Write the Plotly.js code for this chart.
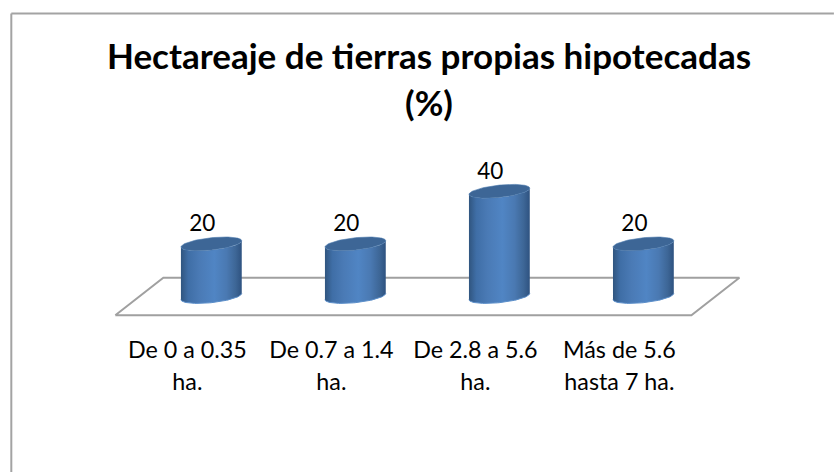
<!DOCTYPE html>
<html>
<head>
<meta charset="utf-8">
<script src="https://cdn.plot.ly/plotly-3.0.1.min.js"></script>
<style>html,body{margin:0;padding:0;background:#fff;overflow:hidden}</style>
</head>
<body>
<div id="chart" style="width:834px;height:472px"></div>
<script>
const titleLines = ['Hectareaje de tierras propias hipotecadas', '(%)'];
const categories = ['De 0 a 0.35<br>ha.', 'De 0.7 a 1.4<br>ha.', 'De 2.8 a 5.6<br>ha.', 'Más de 5.6<br>hasta 7 ha.'];
const values = [20, 20, 40, 20];

const W = 834, H = 472;
const UNIT = 144;                      // pixels per category
const PXV = 2.63;                      // pixels per value unit
const xLo = -0.53, xHi = 3.9;
const L = 187.5 + xLo * UNIT, PW = (xHi - xLo) * UNIT;
const zeroPx = 296.5;
const B = 317, T = 130;
const FONT = 'Lato, Carlito, Calibri, sans-serif';
const yLo = (zeroPx - B) / PXV, yHi = (zeroPx - T) / PXV;
const depth = 1 / 6, halfW = 30.4 / UNIT;
const ellB = 2.35, ellS = 1.18;        // ellipse half-depth and tilt in value units
const floorY = 7.1;

function ringPoint(cx, h, t) {
  return [cx + halfW * Math.cos(t), h + ellB * Math.sin(t) + ellS * Math.cos(t)];
}
const traces = [{
  type: 'scatter', mode: 'lines',
  x: [-0.5, -0.5 + 2 * depth, 3.5 + 2 * depth, 3.5, -0.5],
  y: [-floorY, floorY, floorY, -floorY, -floorY],
  line: {color: '#a0a0a0', width: 2},
  hoverinfo: 'skip', showlegend: false
}];
const N = 48;
values.forEach((v, i) => {
  const cx = i + depth, xs = [], ys = [];
  for (let k = 0; k <= N; k++) {           // lower arc of the base, left to right
    const p = ringPoint(cx, 0, Math.PI + Math.PI * k / N);
    xs.push(p[0]); ys.push(p[1]);
  }
  for (let k = 0; k <= N; k++) {           // lower arc of the lid, right to left
    const p = ringPoint(cx, v, 2 * Math.PI - Math.PI * k / N);
    xs.push(p[0]); ys.push(p[1]);
  }
  xs.push(xs[0]); ys.push(ys[0]);
  traces.push({
    type: 'scatter', mode: 'lines', x: xs, y: ys, fill: 'toself',
    line: {width: 0, color: 'rgba(0,0,0,0)'},
    fillgradient: {
      type: 'horizontal',
      colorscale: [[0, '#30557f'], [0.12, '#3f6ea6'], [0.3, '#4a7ab5'], [0.55, '#5085c4'],
                   [0.75, '#4a79b2'], [0.9, '#3d6696'], [1, '#2e5280']]
    },
    hoverinfo: 'skip', showlegend: false
  });
  const rx = [], ry = [], ax = [], ay = [];
  for (let k = 0; k <= N * 2; k++) {
    const p = ringPoint(cx, v, Math.PI * k / N);
    rx.push(p[0]); ry.push(p[1]);
  }
  traces.push({
    type: 'scatter', mode: 'lines', x: rx, y: ry, fill: 'toself', fillcolor: '#3d6696',
    line: {width: 0.6, color: '#4a78ad'}, hoverinfo: 'skip', showlegend: false
  });
  for (let k = 0; k <= N; k++) {
    const p = ringPoint(cx, 0, Math.PI + Math.PI * k / N);
    ax.push(p[0]); ay.push(p[1]);
  }
  traces.push({
    type: 'scatter', mode: 'lines', x: ax, y: ay,
    line: {width: 1, color: '#5c8fca'}, hoverinfo: 'skip', showlegend: false
  });
});
traces.push({
  type: 'scatter', mode: 'text',
  x: values.map((v, i) => i + depth - 0.0625),
  y: values.map(v => v + 6.9),
  text: values.map(String),
  textposition: 'middle center',
  textfont: {family: FONT, size: 22.5, color: '#000'},
  cliponaxis: false, hoverinfo: 'skip', showlegend: false
});

const px = x => (x - L) / PW;
const pyPaper = y => (B - y) / (B - T);
const sized = (s, size) => s.split('<br>').map(p => '<span style="font-size:' + size + 'px">' + p + '</span>').join('<br>');
const layout = {
  width: W, height: H,
  paper_bgcolor: '#fff', plot_bgcolor: 'rgba(0,0,0,0)',
  margin: {l: L, r: W - L - PW, t: T, b: H - B, pad: 0},
  showlegend: false,
  title: {
    text: sized(titleLines.join('<br>'), 35),
    font: {family: FONT, size: 36, color: '#000', weight: 700},
    x: 429 / W, xanchor: 'center', y: 0.854, yanchor: 'top'
  },
  xaxis: {
    type: 'linear', range: [xLo, xHi], tickmode: 'array',
    tickvals: categories.map((c, i) => i),
    ticktext: categories.map(c => sized(c, 23.3)),
    ticks: '', showgrid: false, zeroline: false, showline: false, ticklabelstandoff: 15,
    tickangle: 0,
    tickfont: {family: FONT, size: 24.6, color: '#000'}
  },
  yaxis: {range: [yLo, yHi], visible: false, fixedrange: true},
  shapes: [
    {type: 'line', xref: 'paper', yref: 'paper', layer: 'below',
     x0: px(11.5), x1: px(834), y0: pyPaper(13.5), y1: pyPaper(13.5),
     line: {color: '#a3a3a3', width: 2}},
    {type: 'line', xref: 'paper', yref: 'paper', layer: 'below',
     x0: px(11.5), x1: px(11.5), y0: pyPaper(13.5), y1: pyPaper(472),
     line: {color: '#a3a3a3', width: 2}}
  ]
};
Plotly.newPlot('chart', traces, layout, {displayModeBar: false, staticPlot: true});
</script>
</body>
</html>
